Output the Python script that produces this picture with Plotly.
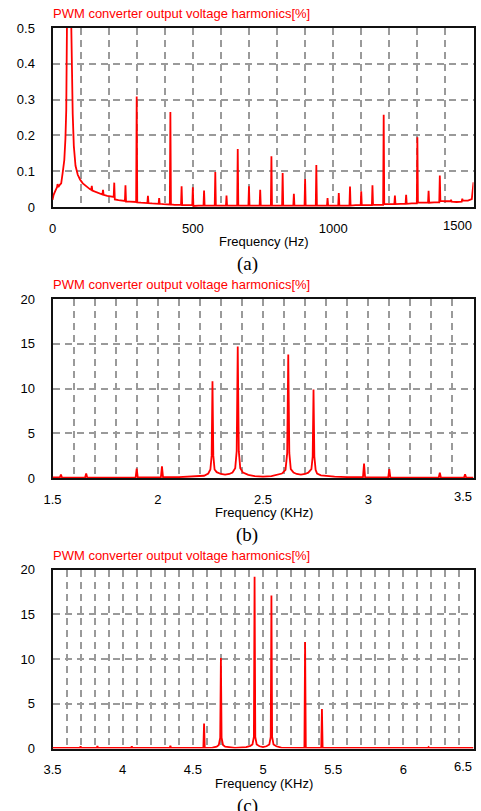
import plotly.graph_objects as go

W, H = 481, 811

# ---------------- Panel (a): 0 - 1500 Hz, harmonics in % ----------------
freq_a = [
    0, 4, 10, 16, 18, 21, 26, 31, 36, 42, 46, 49, 52, 59, 66, 69, 72, 76, 82, 90, 98, 108, 120, 133,
    138, 140, 142, 152, 165,
    178, 180, 182, 195, 210,
    218, 220, 222, 235, 250,
    258, 260, 262, 275, 290,
    298, 300, 302, 315, 330,
    338, 340, 342, 355, 370,
    378, 380, 382, 395, 408,
    418, 420, 422, 435, 450,
    458, 460, 462, 475, 490,
    498, 500, 502, 520,
    538, 540, 542, 560,
    578, 580, 582, 600,
    618, 620, 622, 640,
    658, 660, 662, 680,
    698, 700, 702, 720,
    738, 740, 742, 760,
    778, 780, 782, 800,
    818, 820, 822, 840,
    858, 860, 862, 880,
    898, 900, 902, 920,
    938, 940, 942, 960,
    978, 980, 982, 1000,
    1018, 1020, 1022, 1040,
    1058, 1060, 1062, 1080,
    1098, 1100, 1102, 1120,
    1138, 1140, 1142, 1160,
    1178, 1180, 1182, 1200,
    1218, 1220, 1222, 1240,
    1258, 1260, 1262, 1280,
    1298, 1300, 1302, 1320,
    1338, 1340, 1342, 1360,
    1378, 1380, 1382, 1400,
    1418, 1420, 1422, 1440,
    1458, 1460, 1462, 1480,
    1494, 1500,
]
harm_a = [
    0.020, 0.034, 0.045, 0.055, 0.064, 0.056, 0.062, 0.066, 0.094, 0.131, 0.19, 0.27, 0.55, 60.0,
    0.55, 0.36, 0.26, 0.17, 0.115, 0.09, 0.077, 0.066, 0.057, 0.050,
    0.048, 0.059, 0.046, 0.043, 0.039,
    0.035, 0.048, 0.034, 0.031, 0.029,
    0.028, 0.068, 0.021, 0.019, 0.018,
    0.017, 0.061, 0.015, 0.015, 0.014,
    0.014, 0.309, 0.013, 0.012, 0.011,
    0.011, 0.031, 0.011, 0.010, 0.009,
    0.009, 0.025, 0.009, 0.008, 0.007,
    0.007, 0.265, 0.007, 0.006, 0.006,
    0.006, 0.058, 0.005, 0.005, 0.005,
    0.005, 0.055, 0.003, 0.004,
    0.004, 0.046, 0.004, 0.004,
    0.004, 0.098, 0.004, 0.004,
    0.004, 0.032, 0.004, 0.004,
    0.004, 0.162, 0.004, 0.004,
    0.004, 0.058, 0.004, 0.004,
    0.004, 0.048, 0.004, 0.004,
    0.004, 0.142, 0.004, 0.004,
    0.004, 0.095, 0.004, 0.004,
    0.004, 0.037, 0.004, 0.004,
    0.004, 0.078, 0.004, 0.004,
    0.004, 0.117, 0.004, 0.004,
    0.004, 0.025, 0.004, 0.004,
    0.004, 0.039, 0.004, 0.004,
    0.004, 0.057, 0.004, 0.005,
    0.005, 0.044, 0.005, 0.005,
    0.005, 0.061, 0.006, 0.006,
    0.006, 0.258, 0.008, 0.008,
    0.008, 0.032, 0.008, 0.009,
    0.009, 0.034, 0.009, 0.010,
    0.010, 0.195, 0.012, 0.012,
    0.012, 0.045, 0.012, 0.013,
    0.013, 0.088, 0.017, 0.016,
    0.016, 0.020, 0.015, 0.014,
    0.015, 0.023, 0.018, 0.018,
    0.022, 0.069,
]

# ---------------- Panel (b): 1.5 - 3.5 kHz ----------------
freq_b = [
    1.50, 1.535, 1.54, 1.545, 1.60, 1.655, 1.66, 1.665, 1.75, 1.815, 1.82, 1.825,
    1.895, 1.90, 1.905, 1.96, 2.015, 2.02, 2.025, 2.10, 2.15, 2.19, 2.22, 2.24, 2.25,
    2.256, 2.26, 2.264, 2.27, 2.28, 2.30, 2.32, 2.34, 2.355, 2.368, 2.375, 2.38, 2.385,
    2.392, 2.405, 2.43, 2.46, 2.50, 2.54, 2.57, 2.59, 2.607, 2.615, 2.62, 2.625, 2.632,
    2.645, 2.66, 2.68, 2.70, 2.715, 2.73, 2.736, 2.74, 2.744, 2.75, 2.757, 2.775, 2.79,
    2.84, 2.90, 2.975, 2.98, 2.985, 3.05, 3.095, 3.10, 3.105, 3.20, 3.335, 3.34, 3.345,
    3.40, 3.455, 3.46, 3.465, 3.50,
]
harm_b = [
    0.06, 0.06, 0.40, 0.06, 0.05, 0.06, 0.50, 0.06, 0.05, 0.05, 0.12, 0.05,
    0.07, 1.05, 0.08, 0.08, 0.10, 1.30, 0.10, 0.10, 0.13, 0.18, 0.25, 0.50, 0.95,
    2.5, 10.8, 2.5, 0.95, 0.65, 0.45, 0.37, 0.45, 0.62, 1.1, 3.0, 14.7, 3.0,
    1.1, 0.6, 0.35, 0.22, 0.15, 0.22, 0.35, 0.5, 0.9, 2.8, 13.8, 2.8, 1.0,
    0.6, 0.45, 0.37, 0.45, 0.6, 1.0, 2.4, 9.9, 2.4, 0.9, 0.5, 0.3, 0.26,
    0.15, 0.10, 0.10, 1.60, 0.08, 0.07, 0.07, 1.00, 0.05, 0.05, 0.05, 0.60, 0.05,
    0.05, 0.05, 0.42, 0.05, 0.05,
]

# ---------------- Panel (c): 3.5 - 6.5 kHz ----------------
freq_c = [
    3.50, 3.695, 3.70, 3.705, 3.815, 3.82, 3.825, 3.985, 3.99, 3.995, 4.06, 4.065, 4.07,
    4.335, 4.34, 4.345, 4.50, 4.575, 4.58, 4.585, 4.64, 4.67, 4.685, 4.695, 4.70, 4.705,
    4.715, 4.73, 4.80, 4.88, 4.91, 4.925, 4.935, 4.94, 4.945, 4.955, 4.975, 5.00, 5.025,
    5.045, 5.055, 5.06, 5.065, 5.075, 5.095, 5.13, 5.295, 5.30, 5.305, 5.415, 5.42, 5.425,
    5.60, 6.175, 6.18, 6.185, 6.50,
]
harm_c = [
    0.06, 0.06, 0.25, 0.06, 0.06, 0.28, 0.06, 0.06, 0.12, 0.06, 0.06, 0.25, 0.06,
    0.06, 0.32, 0.06, 0.07, 0.08, 2.8, 0.08, 0.10, 0.2, 0.4, 1.2, 10.1, 1.2,
    0.4, 0.2, 0.08, 0.15, 0.3, 0.45, 1.3, 19.2, 1.3, 0.45, 0.25, 0.15, 0.25,
    0.45, 1.3, 17.1, 1.3, 0.45, 0.25, 0.1, 0.06, 11.9, 0.06, 0.06, 4.4, 0.06,
    0.06, 0.06, 0.15, 0.06, 0.06,
]

# ---------------- Axis ranges / tick labels ----------------
xa_range, xa_ticks, xa_labels, xa_edge = [0, 1500], [0, 500, 1000], ["0", "500", "1000"], "1500"
xb_range, xb_ticks, xb_labels, xb_edge = [1.5, 3.5], [1.5, 2, 2.5, 3], ["1.5", "2", "2.5", "3"], "3.5"
xc_range, xc_ticks, xc_labels, xc_edge = [3.5, 6.5], [3.5, 4, 4.5, 5, 5.5, 6], ["3.5", "4", "4.5", "5", "5.5", "6"], "6.5"
ya_range, yb_range, yc_range = [0, 0.5], [0, 20], [0, 20]

title_text = "PWM converter output voltage harmonics[%]"
xtitle_a = "Frequency (Hz)"
xtitle_bc = "Frequency (KHz)"
captions = ["(a)", "(b)", "(c)"]

# ---------------- Layout geometry (pixels) ----------------
PL, PR = 52.5, 473.5
panels_px = [(28, 207), (299, 478), (569.5, 748.5)]  # (top, bottom)


def px(x):
    return x / W


def py(y):
    return 1 - y / H


RED = "#ff0000"
GRID = "#9a9a9a"
GW = 2
FONT = "Liberation Sans, Arial, sans-serif"

fig = go.Figure()
data = [(freq_a, harm_a), (freq_b, harm_b), (freq_c, harm_c)]
for i, (fx, fy) in enumerate(data):
    sfx = "" if i == 0 else str(i + 1)
    fig.add_trace(go.Scatter(x=fx, y=fy, mode="lines", line=dict(color=RED, width=1.8),
                             xaxis="x" + sfx, yaxis="y" + sfx, showlegend=False,
                             hoverinfo="skip"))

xinfo = [
    (xa_range, xa_ticks, xa_labels, 100),
    (xb_range, xb_ticks, xb_labels, 0.1),
    (xc_range, xc_ticks, xc_labels, 0.1),
]
yinfo = [(ya_range, 0.1), (yb_range, 5), (yc_range, 5)]

layout = dict(
    template="none",
    width=W, height=H, margin=dict(l=0, r=0, t=0, b=0, pad=0, autoexpand=False),
    paper_bgcolor="white", plot_bgcolor="rgba(0,0,0,0)",
    font=dict(family=FONT, size=13, color="#000"),
    showlegend=False,
)

for i in range(3):
    sfx = "" if i == 0 else str(i + 1)
    top, bot = panels_px[i]
    xr, xt, xl, minor_dt = xinfo[i]
    yr, ydt = yinfo[i]
    layout["xaxis" + sfx] = dict(
        domain=[px(PL), px(PR)], range=xr, anchor="y" + sfx, automargin=False,
        tickmode="array", tickvals=xt, ticktext=xl,
        showgrid=True, gridcolor=GRID, gridwidth=GW, griddash="7px,5px",
        minor=dict(dtick=minor_dt, tick0=xr[0], showgrid=True, gridcolor=GRID,
                   gridwidth=GW, griddash="7px,5px", ticks=""),
        showline=True, linecolor="#111", linewidth=2, mirror=True,
        zeroline=False, ticks="", ticklabelstandoff=8,
        tickfont=dict(family=FONT, size=13, color="#000"),
        layer="below traces", fixedrange=True,
    )
    layout["yaxis" + sfx] = dict(
        domain=[py(bot), py(top)], range=yr, anchor="x" + sfx, automargin=False,
        dtick=ydt, tick0=0,
        showgrid=True, gridcolor=GRID, gridwidth=GW, griddash="7px,5px",
        showline=True, linecolor="#111", linewidth=2, mirror=True,
        zeroline=False, ticks="", ticklabelstandoff=13,
        tickfont=dict(family=FONT, size=13, color="#000"),
        layer="below traces", fixedrange=True,
    )

annotations = []
edge_labels = [xa_edge, xb_edge, xc_edge]
xtitles = [xtitle_a, xtitle_bc, xtitle_bc]
for i in range(3):
    sfx = "" if i == 0 else str(i + 1)
    top, bot = panels_px[i]
    # chart title (red, top-left)
    annotations.append(dict(text=title_text, xref="paper", yref="paper",
                            x=px(PL - 2), y=py(top - 14.5), xanchor="left", yanchor="middle",
                            showarrow=False, font=dict(family=FONT, size=13, color=RED)))
    # right-edge tick label, kept inside the frame like the original
    annotations.append(dict(text=edge_labels[i], xref="x" + sfx, yref="paper",
                            x=xinfo[i][0][1], y=py(bot + 18), xanchor="right", yanchor="middle",
                            showarrow=False, font=dict(family=FONT, size=13, color="#000")))
    # x axis title
    annotations.append(dict(text=xtitles[i], xref="paper", yref="paper",
                            x=px(263.5), y=py(bot + 34.7), xanchor="center", yanchor="middle",
                            showarrow=False, font=dict(family=FONT, size=13, color="#000")))
    # caption
    annotations.append(dict(text=captions[i], xref="paper", yref="paper",
                            x=px(247), y=py(bot + 57), xanchor="center", yanchor="middle",
                            showarrow=False,
                            font=dict(family="Liberation Serif, Times New Roman, serif", size=19,
                                      color="#000")))

layout["annotations"] = annotations
fig.update_layout(**layout)
fig.write_html("out.html",
               config={"displayModeBar": False, "staticPlot": True},
               post_script="document.body.style.margin='0px';"
                           "document.body.style.overflow='hidden';")
